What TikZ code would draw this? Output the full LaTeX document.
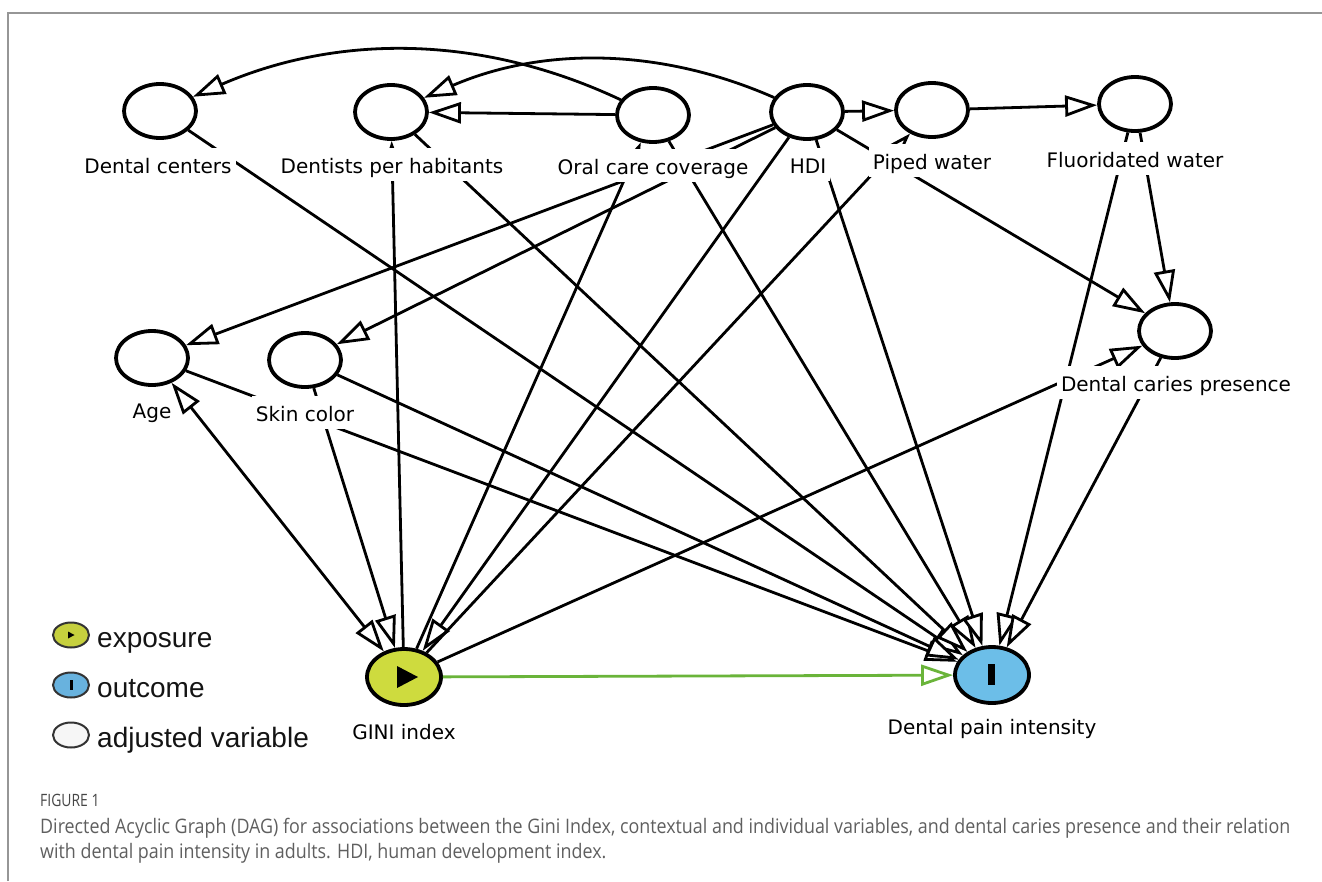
\documentclass[tikz,border=0pt]{standalone}
\usepackage{fontspec}
\setmainfont{DejaVu Sans}
\newfontfamily\legfont{Liberation Sans}
\newfontfamily\capfont{Open Sans}
\usetikzlibrary{shapes.geometric,arrows.meta}
\definecolor{expfill}{RGB}{206,219,62}
\definecolor{outfill}{RGB}{108,190,232}
\definecolor{legexp}{RGB}{198,208,62}
\definecolor{legout}{RGB}{104,178,222}
\definecolor{legadj}{RGB}{246,246,246}
\definecolor{causal}{RGB}{106,180,58}
\definecolor{capgray}{RGB}{95,95,95}
\definecolor{figgray}{RGB}{70,70,70}
\definecolor{framegray}{RGB}{150,150,150}
\begin{document}
\begin{tikzpicture}[x=1pt,y=-1pt,
  var/.style={ellipse,draw=black,line width=3.8pt,fill=white,minimum width=72pt,minimum height=54pt,inner sep=0pt},
  lbl/.style={fill=white,inner xsep=4pt,inner ysep=0pt,text height=25pt,text depth=8pt,anchor=base,font=\fontsize{20pt}{24pt}\selectfont},
  edge/.style={line width=2.8pt,draw=black,-{Triangle[length=32pt,width=21pt,fill=white]}},
  biedge/.style={line width=2.8pt,draw=black,{Triangle[length=32pt,width=21pt,fill=white]}-{Triangle[length=32pt,width=21pt,fill=white]}},
  legell/.style={ellipse,draw=black!80,line width=2pt,minimum width=36pt,minimum height=25pt,inner sep=0pt},
  legtxt/.style={anchor=base west,inner sep=0pt,text=black!92,font=\legfont\fontsize{28pt}{32pt}\selectfont}
]
\useasboundingbox (0,0) rectangle (1322,881);
\draw[framegray,line width=1.5pt] (8,881) -- (8,13) -- (1322,13);

% variables
\node[var] (dc) at (160,111) {};
\node[var] (dp) at (391,112) {};
\node[var] (oc) at (653,115) {};
\node[var] (hdi) at (807,112) {};
\node[var] (pw) at (932,110) {};
\node[var] (fw) at (1135,104) {};
\node[var] (age) at (152,358) {};
\node[var] (sc) at (305,360) {};
\node[var] (car) at (1175,331) {};
\node[var,fill=expfill,minimum width=74pt,minimum height=56pt] (gini) at (404,677) {};
\node[var,fill=outfill,minimum width=74pt,minimum height=56pt] (pain) at (992,675) {};
\fill (397,666) -- (418,677) -- (397,688) -- cycle;
\fill (988,664) rectangle (995,685);

% edges
\draw[edge] (oc) .. controls (481,34) and (338,34) .. (dc);
\draw[edge] (hdi) .. controls (659,47) and (542,47) .. (dp);
\draw[edge] (oc) -- (dp);
\draw[edge] (hdi) -- (pw);
\draw[edge] (pw) -- (fw);
\draw[edge] (fw) -- (car);
\draw[edge] (hdi) -- (car);
\draw[edge] (gini) -- (car);
\draw[edge] (hdi) -- (age);
\draw[edge] (hdi) -- (sc);
\draw[biedge] (age) -- (gini);
\draw[edge] (sc) -- (gini);
\draw[edge] (gini) -- (dp);
\draw[edge] (gini) -- (oc);
\draw[edge] (hdi) -- (gini);
\draw[edge] (gini) -- (pw);
\draw[edge] (dc) -- (pain);
\draw[edge] (dp) -- (pain);
\draw[edge] (oc) -- (pain);
\draw[edge] (hdi) -- (pain);
\draw[edge] (age) -- (pain);
\draw[edge] (sc) -- (pain);
\draw[edge] (fw) -- (pain);
\draw[edge] (car) -- (pain);
\draw[edge,draw=causal] (gini) -- (pain);

% labels
\node[lbl] (ldc) at (158,173) {Dental centers};
\node[lbl] (ldp) at (392,173) {Dentists per habitants};
\node[lbl] (loc) at (653,174) {Oral care coverage};
\node[lbl] (lhdi) at (808,173) {HDI};
\node[lbl] (lpw) at (932,169) {Piped water};
\node[lbl] (lfw) at (1135,167) {Fluoridated water};
\node[lbl] (lage) at (152,418) {Age};
\node[lbl] (lsc) at (305,421) {Skin color};
\node[lbl] (lcar) at (1176,391) {Dental caries presence};
\node[lbl] (lgini) at (404,739) {GINI index};
\node[lbl] (lpain) at (992,734) {Dental pain intensity};

% legend
\node[legell,fill=legexp] (kx) at (71,635) {};
\fill (68,631.5) -- (74.5,635) -- (68,638.5) -- cycle;
\node[legell,fill=legout] (ko) at (71,685) {};
\fill (69.5,680) rectangle (72.5,690);
\node[legell,fill=legadj] (ka) at (71,735) {};
\node[legtxt] (tx) at (97,647) {exposure};
\node[legtxt] (to) at (97,697) {outcome};
\node[legtxt] (ta) at (97,747) {adjusted variable};

% caption
\node[anchor=base west,inner sep=0pt,text=figgray,font=\capfont\fontsize{17pt}{20pt}\selectfont] (fig) at (40,806) {\scalebox{0.82}[1]{FIGURE 1}};
\node[anchor=base west,inner sep=0pt,text=capgray,font=\capfont\fontsize{20pt}{25pt}\selectfont] (cap) at (40,833) {\resizebox{1250pt}{\height}{\begin{tabular}[t]{@{}l@{}}Directed Acyclic Graph (DAG) for associations between the Gini Index, contextual and individual variables, and dental caries presence and their relation\\with dental pain intensity in adults. HDI, human development index.\end{tabular}}};
\end{tikzpicture}
\end{document}
